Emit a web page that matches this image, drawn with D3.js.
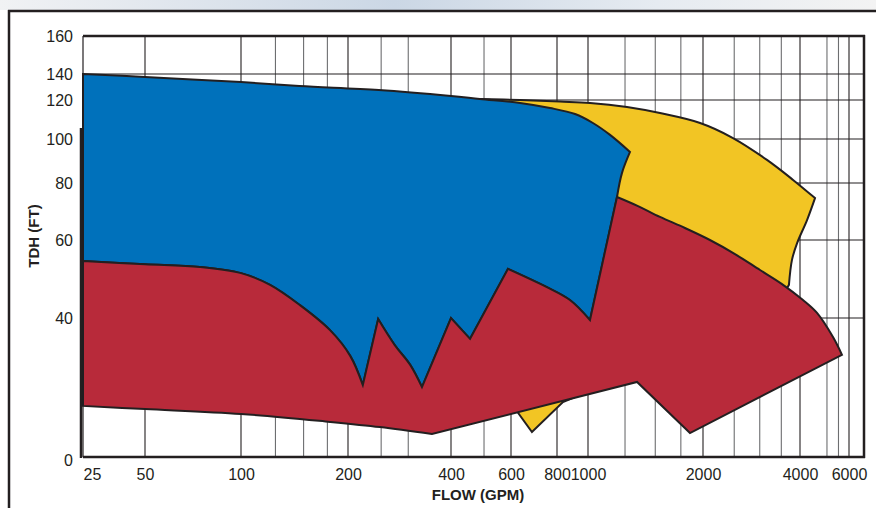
<!DOCTYPE html>
<html>
<head>
<meta charset="utf-8">
<script src="https://cdn.jsdelivr.net/npm/d3@7"></script>
<style>
  html, body { margin: 0; padding: 0; background: #fff; }
  svg text { font-family: 'Liberation Sans', Arial, sans-serif; fill: #231f20; }
</style>
</head>
<body>
<div id="chart"></div>
<script>
// tick labels
const xTickValues = [25, 50, 100, 200, 400, 600, 800, 1000, 2000, 4000, 6000];
const yTickValues = [0, 40, 60, 80, 100, 120, 140, 160];
// grid lines
const xGridValues = [50, 100, 125, 150, 175, 200, 250, 300, 400, 500, 600, 800, 1000,
  1250, 1500, 1750, 2000, 2500, 3000, 3500, 4000, 5000, 5500, 6000];
const yGridValues = [40, 60, 80, 100, 120, 140];

// outlines as [flow gpm, tdh ft]; each piece is either smooth (curve) or straight
const blueTop = [[25, 140], [50, 137.7], [100, 133.8], [146, 130.8], [246, 127.7], [400, 123.1],
  [486, 120.8], [635, 118.5], [766, 115.9], [911, 112.8], [1030, 108.2], [1142, 102.1], [1288, 94.1]];
const blueRightTop = [[1288, 94.1], [1227, 84.5], [1191, 75.1]];
const sharedEdge = [[1191, 75.1], [1012, 39.4]];
// boundary between blue and red, right to left
const splitPieces = [
  { smooth: true, pts: [[1012, 39.4], [878, 44.6], [751, 47.9], [588, 52.6]] },
  { smooth: false, pts: [[588, 52.6], [455, 34.0], [400, 40], [329, 20.1]] },
  { smooth: true, pts: [[329, 20.1], [304, 26.5], [274, 32.2], [245, 39.7]] },
  { smooth: false, pts: [[245, 39.7], [221, 20.7]] },
  { smooth: true, pts: [[221, 20.7], [203, 29.1], [178, 36.5], [146.5, 43.3], [120.7, 48.5],
    [100, 51.5], [74.3, 53.1], [50, 53.8], [25, 54.6]] }
];
const redArc = [[1191, 75.1], [1352, 71.9], [1543, 68.1], [1794, 64.2], [2101, 60], [2514, 56.4],
  [3006, 52.3], [3518, 48.7], [4100, 44.6], [4605, 41.3], [5256, 34.5], [5661, 29.4]];
const redLower = [[5661, 29.4], [1849, 6.9], [1344, 21.6], [352, 6.6]];
const redBottom = [[352, 6.6], [248, 8.6], [178, 10.1], [100, 12.4], [50, 13.8], [25, 14.7]];
const yellowTop = [[486, 120.8], [635, 120], [817, 119.2], [1012, 118.5], [1265, 116.4],
  [1543, 113.3], [1965, 108.2], [2478, 100.5], [3159, 90.5], [3807, 81.4], [4529, 74.7]];
const yellowRight = [[4529, 74.7], [4240, 67.0], [3918, 59.2], [3777, 54.9], [3696, 48.5]];
const yellowRest = [[3696, 48.5], [3470, 44.6], [1368, 25.0], [835, 15.8], [684, 7.2],
  [627, 12.7], [557, 25.0], [557, 74.0], [486, 120.8]];

const width = 876, height = 508;
const plot = { left: 83, right: 864, top: 36, bottom: 457 };
const ink = '#231f20';

const svg = d3.select('#chart').append('svg')
  .attr('width', width).attr('height', height);

// faded photo strip at the very top
const grad = svg.append('defs').append('linearGradient').attr('id', 'topfade');
grad.append('stop').attr('offset', '0%').attr('stop-color', '#f1f2f4');
grad.append('stop').attr('offset', '45%').attr('stop-color', '#cbd7e5');
grad.append('stop').attr('offset', '75%').attr('stop-color', '#e6ebf1');
grad.append('stop').attr('offset', '100%').attr('stop-color', '#f3f3f3');
svg.append('rect').attr('x', 0).attr('y', 0).attr('width', width).attr('height', 10)
  .attr('fill', 'url(#topfade)');

// chart paper is hand-spaced, so the scales are piecewise
const x = d3.scaleLog()
  .domain([25, 50, 100, 200, 400, 600, 800, 1000, 2000, 4000, 6000, 7000])
  .range([83, 145, 241, 348, 451, 511, 557, 588, 703, 800, 849, 864]);
const y = d3.scaleLinear()
  .domain([0, 40, 60, 80, 100, 120, 140, 160])
  .range([457, 318, 240, 183, 139, 100, 74, 36]);

// grid
svg.append('g').selectAll('line').data(xGridValues).enter().append('line')
  .attr('x1', d => x(d)).attr('x2', d => x(d))
  .attr('y1', plot.top).attr('y2', plot.bottom)
  .attr('stroke', d => xTickValues.includes(d) ? ink : '#6d6e70')
  .attr('stroke-width', 1.1);
svg.append('g').selectAll('line').data(yGridValues).enter().append('line')
  .attr('x1', plot.left).attr('x2', plot.right)
  .attr('y1', d => y(d)).attr('y2', d => y(d))
  .attr('stroke', ink).attr('stroke-width', 1.1);

const smoothLine = d3.line().x(d => x(d[0])).y(d => y(d[1])).curve(d3.curveCatmullRom.alpha(0.5));
const straightLine = d3.line().x(d => x(d[0])).y(d => y(d[1]));

// joins pieces into one closed path
function outline(pieces) {
  return pieces.map((p, i) => {
    const s = (p.smooth ? smoothLine : straightLine)(p.pts);
    return i === 0 ? s : 'L' + s.slice(1);
  }).join('') + 'Z';
}

const reversedSplit = splitPieces.slice().reverse()
  .map(p => ({ smooth: p.smooth, pts: p.pts.slice().reverse() }));

const shapes = [
  { color: '#f2c524', pieces: [
    { smooth: true, pts: yellowTop },
    { smooth: true, pts: yellowRight },
    { smooth: false, pts: yellowRest }
  ] },
  { color: '#0071bb', pieces: [
    { smooth: true, pts: blueTop },
    { smooth: true, pts: blueRightTop },
    { smooth: false, pts: sharedEdge }
  ].concat(splitPieces) },
  { color: '#b82a3a', pieces: reversedSplit.concat([
    { smooth: false, pts: sharedEdge.slice().reverse() },
    { smooth: true, pts: redArc },
    { smooth: false, pts: redLower },
    { smooth: true, pts: redBottom }
  ]) }
];
svg.append('g').selectAll('path').data(shapes).enter().append('path')
  .attr('d', d => outline(d.pieces))
  .attr('fill', d => d.color)
  .attr('stroke', ink)
  .attr('stroke-width', 2)
  .attr('stroke-linejoin', 'miter')
  .attr('stroke-miterlimit', 6);

// frame
svg.append('line').attr('x1', plot.left).attr('x2', plot.left)
  .attr('y1', plot.top).attr('y2', plot.bottom).attr('stroke', ink).attr('stroke-width', 1.2);
svg.append('line').attr('x1', 81).attr('x2', 81)
  .attr('y1', 128).attr('y2', plot.bottom + 1).attr('stroke', ink).attr('stroke-width', 2.5);
svg.append('line').attr('x1', plot.left).attr('x2', plot.right + 1)
  .attr('y1', plot.top).attr('y2', plot.top).attr('stroke', ink).attr('stroke-width', 2.5);
svg.append('line').attr('x1', plot.left).attr('x2', plot.right + 1)
  .attr('y1', plot.bottom).attr('y2', plot.bottom).attr('stroke', ink).attr('stroke-width', 2.5);
svg.append('line').attr('x1', plot.right).attr('x2', plot.right)
  .attr('y1', plot.top - 1).attr('y2', plot.bottom + 1).attr('stroke', ink).attr('stroke-width', 2.5);

// outer box of the page
svg.append('line').attr('x1', 8).attr('x2', width).attr('y1', 11).attr('y2', 11)
  .attr('stroke', ink).attr('stroke-width', 2.5);
svg.append('line').attr('x1', 9).attr('x2', 9).attr('y1', 10).attr('y2', height)
  .attr('stroke', ink).attr('stroke-width', 2.5);

// axes
const xAxis = svg.append('g')
  .attr('transform', `translate(0, ${plot.bottom})`)
  .call(d3.axisBottom(x).tickValues(xTickValues).tickSize(0).tickPadding(11.5)
    .tickFormat(d3.format('d')));
const yAxis = svg.append('g')
  .attr('transform', `translate(${plot.left}, 0)`)
  .call(d3.axisLeft(y).tickValues(yTickValues).tickSize(0).tickPadding(10)
    .tickFormat(d3.format('d')));
[xAxis, yAxis].forEach(g => {
  g.select('.domain').remove();
  g.selectAll('text').style('font-size', '16px').attr('fill', ink);
});
xAxis.selectAll('text').filter(d => d === 25).attr('text-anchor', 'start');
yAxis.selectAll('text').filter(d => d === 0).attr('dy', '0.55em');

svg.append('text')
  .attr('x', 478).attr('y', 500)
  .attr('text-anchor', 'middle')
  .style('font-size', '15px').style('font-weight', 'bold')
  .text('FLOW (GPM)');
svg.append('text')
  .attr('transform', 'translate(39, 236) rotate(-90)')
  .attr('text-anchor', 'middle')
  .style('font-size', '15px').style('font-weight', 'bold')
  .text('TDH (FT)');
</script>
</body>
</html>
